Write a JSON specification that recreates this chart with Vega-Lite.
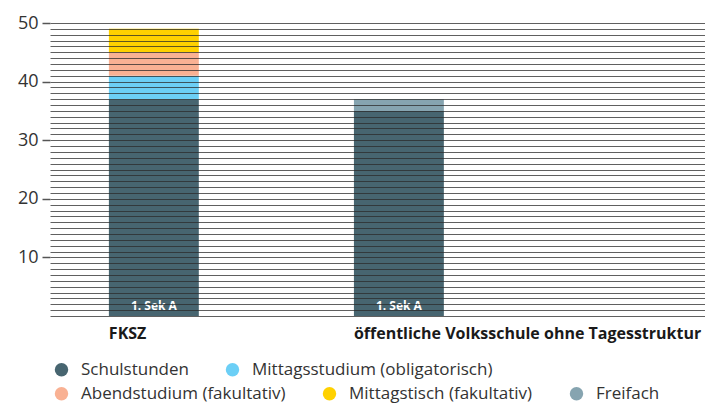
{
  "$schema": "https://vega.github.io/schema/vega-lite/v6.json",
  "autosize": "none",
  "width": 655,
  "height": 293,
  "padding": {"left": 50, "top": 23, "right": 0, "bottom": 90},
  "config": {
    "font": "Open Sans",
    "view": {"stroke": null},
    "legend": {"labelFont": "Open Sans", "labelFontSize": 17, "labelColor": "#333", "labelLimit": 0, "symbolType": "circle", "symbolSize": 180, "symbolStrokeWidth": 0, "labelOffset": 11, "columnPadding": 35, "padding": 0}
  },
  "data": {
    "values": [
      {"schule": "FKSZ", "kategorie": "Schulstunden", "stunden": 37, "rang": 1, "klasse": "1. Sek A"},
      {"schule": "FKSZ", "kategorie": "Mittagsstudium (obligatorisch)", "stunden": 4, "rang": 2, "klasse": "1. Sek A"},
      {"schule": "FKSZ", "kategorie": "Abendstudium (fakultativ)", "stunden": 4, "rang": 3, "klasse": "1. Sek A"},
      {"schule": "FKSZ", "kategorie": "Mittagstisch (fakultativ)", "stunden": 4, "rang": 4, "klasse": "1. Sek A"},
      {"schule": "öffentliche Volksschule ohne Tagesstruktur", "kategorie": "Schulstunden", "stunden": 35, "rang": 1, "klasse": "1. Sek A"},
      {"schule": "öffentliche Volksschule ohne Tagesstruktur", "kategorie": "Freifach", "stunden": 2, "rang": 5, "klasse": "1. Sek A"}
    ]
  },
  "transform": [
    {"stack": "stunden", "groupby": ["schule"], "sort": [{"field": "rang"}], "as": ["y0", "y1"]}
  ],
  "encoding": {
    "x": {
      "field": "schule", "type": "nominal", "sort": null, "title": null,
      "scale": {"paddingInner": 0.633, "paddingOuter": 0.653, "align": 0.184},
      "axis": {"labelAlign": "left", "labelOffset": -45, "labelAngle": 0, "labelFontWeight": "bold", "labelFontSize": 16, "labelColor": "#1a1a1a", "labelPadding": 9, "labelLimit": 0, "ticks": false, "domain": false, "grid": false}
    }
  },
  "layer": [
    {
      "transform": [{"filter": "datum.rang <= 2"}],
      "mark": {"type": "bar"},
      "encoding": {
        "y": {
          "field": "y0", "type": "quantitative", "title": null,
          "scale": {"domain": [0, 50], "nice": false},
          "axis": {
            "values": [0,1,2,3,4,5,6,7,8,9,10,11,12,13,14,15,16,17,18,19,20,21,22,23,24,25,26,27,28,29,30,31,32,33,34,35,36,37,38,39,40,41,42,43,44,45,46,47,48,49,50],
            "tickCount": 100,
            "format": "d",
            "labelExpr": "datum.value % 10 === 0 && datum.value > 0 ? datum.label : ''",
            "labelFontSize": 18, "labelColor": "#333", "labelPadding": 4, "labelOverlap": false,
            "tickSize": 8, "tickColor": "#555", "tickWidth": 1.5,
            "tickOpacity": {"condition": {"test": "datum.value % 10 === 0 && datum.value > 0", "value": 1}, "value": 0},
            "domain": false, "grid": true, "gridColor": "#2b2b2b", "gridOpacity": 0.75, "gridWidth": 1,
            "zindex": 1
          }
        },
        "y2": {"field": "y1"},
        "color": {
          "field": "kategorie", "type": "nominal",
          "scale": {"domain": ["Schulstunden", "Mittagsstudium (obligatorisch)"], "range": ["#476570", "#6ccff6"]},
          "legend": {"title": null, "orient": "none", "direction": "horizontal", "legendX": 3, "legendY": 338}
        }
      }
    },
    {
      "transform": [{"filter": "datum.rang > 2"}],
      "mark": {"type": "bar"},
      "encoding": {
        "y": {"field": "y0", "type": "quantitative"},
        "y2": {"field": "y1"},
        "color": {
          "field": "kategorie", "type": "nominal",
          "scale": {"domain": ["Abendstudium (fakultativ)", "Mittagstisch (fakultativ)", "Freifach"], "range": ["#f9b193", "#ffd100", "#86a4b0"]},
          "legend": {"title": null, "orient": "none", "direction": "horizontal", "legendX": 3, "legendY": 362}
        }
      }
    },
    {
      "transform": [{"filter": "datum.rang == 1"}],
      "mark": {"type": "text", "baseline": "bottom", "dy": -3, "color": "white", "fontWeight": "bold", "fontSize": 12},
      "encoding": {
        "y": {"datum": 0, "type": "quantitative"},
        "text": {"field": "klasse"}
      }
    }
  ],
  "resolve": {"scale": {"color": "independent"}, "legend": {"color": "independent"}}
}
